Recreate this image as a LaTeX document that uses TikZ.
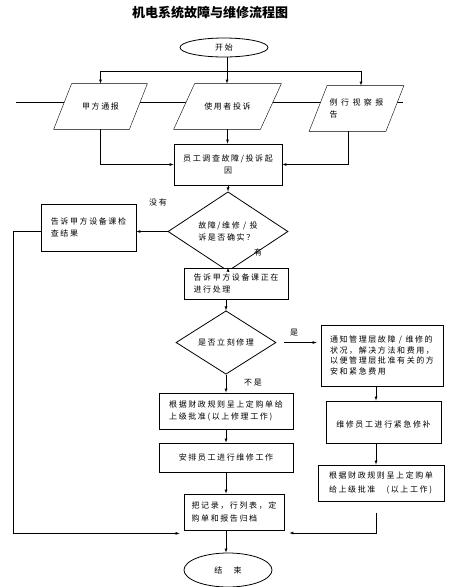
\documentclass[tikz,border=0pt]{standalone}
\usepackage{fontspec}
\setmainfont[LetterSpace=20]{Noto Sans CJK SC}
\newfontfamily\titlefont{Noto Sans CJK SC}
\usetikzlibrary{shapes.geometric}
\pgfdeclarelayer{back}
\pgfsetlayers{back,main}
\newcommand\nodestart{开始}
\newcommand\nodepty{甲方通报}
\newcommand\nodeusr{使用者投诉}
\newcommand\nodeinsp{例 行 视 察 报\\告}
\newcommand\nodeinv{员工调查故障/投诉起\\因}
\newcommand\nodecfm{故障/维修 / 投\\诉是否确实？}
\newcommand\nodechk{告诉甲方设备课检\\查结果}
\newcommand\nodeproc{告诉甲方设备课正在\\进行处理}
\newcommand\nodeimm{是否立刻修理}
\newcommand\nodentf{通知管理层故障 / 维修的\\状况，解决方法和费用，\\以便管理层批准有关的方\\安和紧急费用}
\newcommand\nodeord{根据财政规则呈上定购单给\\上级批准(以上修理工作)}
\newcommand\nodearr{安排员工进行维修工作}
\newcommand\nodearc{把记录，行列表，定\\购单和报告归档}
\newcommand\nodefin{结　束}
\newcommand\noderep{\mbox{}\\维修员工进行紧急修补}
\newcommand\nodeapv{根据财政规则呈上定购单\\给上级批准　(以上工作)}
\tikzstyle{txt} = [inner sep=1pt, align=left, font=\fontsize{8}{12.5}\selectfont]
\tikzstyle{base} = [txt, draw=black, fill=white]
\tikzstyle{bx} = [base, rectangle]
\tikzstyle{pg} = [txt, rectangle, minimum height=45pt]
\tikzstyle{dm} = [base, diamond, inner sep=0pt]
\tikzstyle{el} = [base, ellipse, inner sep=0pt]
\tikzstyle{lb} = [inner sep=0pt, font=\fontsize{8}{10}\selectfont]
\tikzset{>=latex, every picture/.style={line width=0.8pt}}

\begin{document}
\begin{tikzpicture}[x=1pt, y=-1pt]
\useasboundingbox (0,0) rectangle (453,587);
\node[lb, font=\titlefont\bfseries\fontsize{13}{15}\selectfont] (title) at (210,13) {机电系统故障与维修流程图};
\node[el, minimum width=88pt, minimum height=19pt] (start) at (224,47.5) {\nodestart};
\node[pg, minimum width=75pt] (pty) at (100.5,106.5) {\nodepty};
\node[pg, minimum width=86pt] (usr) at (227.5,106.5) {\nodeusr};
\node[pg, minimum width=76pt] (insp) at (356.5,108.5) {\nodeinsp};
\node[bx, minimum width=108pt, minimum height=41pt, align=center] (inv) at (228,164.5) {\nodeinv};
\node[dm, minimum width=120pt, minimum height=53pt] (cfm) at (228,231.5) {\nodecfm};
\node[bx, minimum width=95pt, minimum height=47pt] (chk) at (88.5,227.5) {\nodechk};
\node[bx, minimum width=104pt, minimum height=31pt] (proc) at (236,283.5) {\nodeproc};
\node[dm, minimum width=100pt, minimum height=59pt] (imm) at (226,342.5) {\nodeimm};
\node[bx, minimum width=122pt, minimum height=61pt, font=\fontsize{8}{10.5}\selectfont] (ntf) at (382,355.5) {\nodentf};
\node[bx, minimum width=134pt, minimum height=36pt] (ord) at (226,411) {\nodeord};
\node[bx, minimum width=134pt, minimum height=29pt] (arr) at (226,457.5) {\nodearr};
\node[bx, minimum width=100pt, minimum height=36pt] (arc) at (234,512) {\nodearc};
\node[el, minimum width=88pt, minimum height=34pt] (fin) at (228,570) {\nodefin};
\node[bx, minimum width=115pt, minimum height=42pt] (rep) at (383.5,422) {\noderep};
\node[bx, minimum width=126pt, minimum height=36pt, font=\fontsize{8}{14}\selectfont] (apv) at (381,483) {\nodeapv};
\node[lb] (no1) at (158,202) {没有};
\node[lb] (yes1) at (258,252) {有};
\node[lb] (yes2) at (294,333) {是};
\node[lb] (no2) at (253,383) {不是};
% parallelograms behind the text, over the long line
\coordinate (bandl) at (16,102);
\coordinate (bandr) at (403,102);
\begin{pgfonlayer}{back}
\draw (bandl) -- (bandr);
\foreach \n/\d in {pty/9, usr/10.5, insp/9}
  \filldraw[fill=white] ([xshift=-\d pt]\n.south west) -- ([xshift=-\d pt]\n.south east)
    -- ([xshift=\d pt]\n.north east) -- ([xshift=\d pt]\n.north west) -- cycle;
\end{pgfonlayer}
\coordinate (fork) at (227,71);
\draw (fork |- start.south) -- (fork);
\draw[->] (fork) -| (pty.north);
\draw[->] (fork) -- (fork |- usr.north);
\draw[->] (fork) -| ([xshift=4.5pt]insp.north);
\draw[->] (pty.south) |- (inv.west);
\draw[->] (usr.south) -- (usr.south |- inv.north);
\draw[->] ([xshift=-8.5pt]insp.south) |- (inv.east);
\draw[->] (inv) -- (cfm);
\draw[->] (cfm.west) -- (cfm.west -| chk.east);
\coordinate (lbend) at (13,231.5);
\draw[->] (cfm.west -| chk.west) -- (lbend) |- ([xshift=-4pt,yshift=-3pt]arc.south west);
\draw[->] (cfm.south) -- (cfm.south |- proc.north);
\draw[->] (proc.south -| imm.north) -- (imm.north);
\draw[->] ([xshift=8pt]imm.east) -- ([xshift=-4pt]imm.east -| ntf.west);
\draw[->] (imm.south) -- (imm.south |- ord.north);
\draw[->] (ord) -- (arr);
\draw[->] (arr.south) -- (arr.south |- arc.north);
\draw[->] (arr.south |- arc.south) -- (arr.south |- fin.north);
\draw[->] ([xshift=-6pt]ntf.south) -- ([xshift=-6pt]ntf.south |- rep.north);
\draw[->] ([xshift=-7.5pt]rep.south) -- ([xshift=-7.5pt]rep.south |- apv.north);
\coordinate (rbend) at (376,533);
\draw[->] ([xshift=-5pt,yshift=-12pt]apv.south) -- (rbend) -- ([xshift=5pt]arc.east |- rbend);
\end{tikzpicture}
\end{document}
